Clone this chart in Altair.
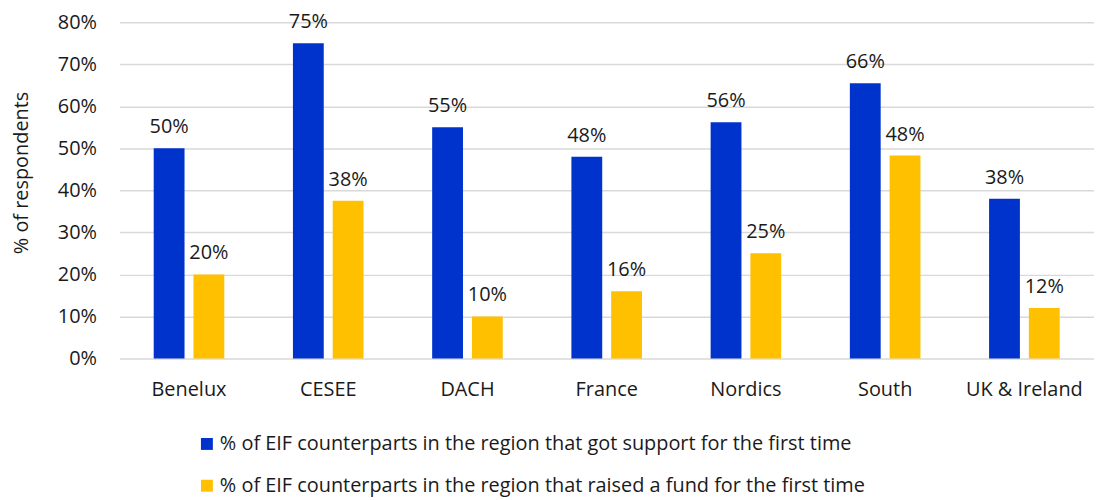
import altair as alt
import pandas as pd

regions = ["Benelux", "CESEE", "DACH", "France", "Nordics", "South", "UK & Ireland"]
support_first = [0.50, 0.75, 0.55, 0.48, 0.562, 0.655, 0.38]
raised_first = [0.20, 0.375, 0.10, 0.16, 0.25, 0.483, 0.12]
series_names = [
    "% of EIF counterparts in the region that got support for the first time",
    "% of EIF counterparts in the region that raised a fund for the first time",
]
colors = ["#0033CC", "#FFC000"]
y_ticks = [0, 0.1, 0.2, 0.3, 0.4, 0.5, 0.6, 0.7, 0.8]

rows = []
for i, r in enumerate(regions):
    rows.append({"region": r, "series": series_names[0], "value": support_first[i]})
    rows.append({"region": r, "series": series_names[1], "value": raised_first[i]})
df = pd.DataFrame(rows)

FONT = "Open Sans"
TXT = "#1a1a1a"
FS = 20

base = alt.Chart(df).encode(
    x=alt.X(
        "region:N",
        sort=regions,
        scale=alt.Scale(paddingInner=0.493, paddingOuter=0.2465),
        axis=alt.Axis(
            title=None, labelAngle=0, ticks=False, domain=False, grid=False,
            labelFontSize=FS, labelPadding=21, labelColor=TXT, labelFont=FONT,
        ),
    ),
    xOffset=alt.XOffset(
        "series:N", sort=series_names,
        scale=alt.Scale(paddingInner=0.225, paddingOuter=0),
    ),
    y=alt.Y(
        "value:Q",
        scale=alt.Scale(domain=[0, 0.8]),
        axis=alt.Axis(
            values=y_ticks, format=".0%", title="% of respondents",
            ticks=False, domain=False, grid=True, gridColor="#D9D9D9", gridWidth=1.5,
            labelFontSize=FS, labelPadding=23, labelColor=TXT, labelFont=FONT,
            titleFontSize=FS, titleFont=FONT, titleColor=TXT, titleFontWeight="normal",
            titleX=-98, titleY=151, titleBaseline="middle", titleAlign="center",
        ),
    ),
)

bars = base.mark_bar().encode(
    color=alt.Color(
        "series:N",
        sort=series_names,
        scale=alt.Scale(domain=series_names, range=colors),
        legend=alt.Legend(
            orient="none", legendX=78, legendY=414, direction="vertical",
            title=None, symbolType="square", symbolSize=144, symbolStrokeWidth=0,
            labelFontSize=FS, labelFont=FONT, labelColor=TXT, labelLimit=1000,
            rowPadding=22, labelOffset=3,
        ),
    )
)

labels = base.mark_text(
    dy=-15, baseline="alphabetic", fontSize=FS, font=FONT, color=TXT
).encode(text=alt.Text("value:Q", format=".0%"))

chart = (
    (bars + labels)
    .properties(
        width=980, height=338,
        padding={"left": 112, "top": 13, "right": 0, "bottom": 139},
        autosize="none",
        background="white",
    )
    .configure_view(stroke=None)
)

chart.save("out.html", embed_options={"renderer": "svg", "actions": False})
